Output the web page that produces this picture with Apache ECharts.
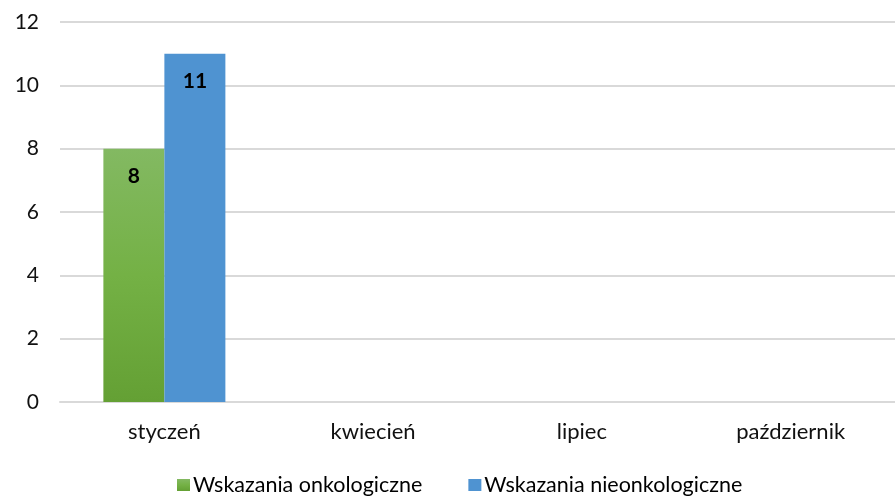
<!DOCTYPE html>
<html>
<head>
<meta charset="utf-8">
<script src="https://cdn.jsdelivr.net/npm/echarts@6/dist/echarts.min.js"></script>
<style>
html, body { margin: 0; padding: 0; background: #fff; }
#chart { width: 895px; height: 497px; }
</style>
</head>
<body>
<div id="chart"></div>
<script>
// dane wykresu
var months = ['styczeń', 'kwiecień', 'lipiec', 'październik'];
var onkologiczne = [8, null, null, null];
var nieonkologiczne = [11, null, null, null];
var seriesNames = ['Wskazania onkologiczne', 'Wskazania nieonkologiczne'];

var myChart = echarts.init(document.getElementById('chart'));
var labelStyle = {
  show: true,
  position: 'insideTop',
  distance: 17,
  fontFamily: 'Lato',
  fontWeight: 'bold',
  fontSize: 21,
  color: '#000'
};
var option = {
  animation: false,
  textStyle: { fontFamily: 'Lato' },
  grid: { left: 60, right: -5, top: 22, bottom: 95 },
  legend: {
    top: 474,
    left: 177,
    padding: 0,
    itemWidth: 13,
    itemHeight: 12,
    itemGap: 46,
    icon: 'rect',
    textStyle: { fontFamily: 'Lato', fontSize: 21.5, color: '#000', padding: [0, 0, 0, -2] },
    data: seriesNames
  },
  xAxis: {
    type: 'category',
    data: months,
    axisTick: { show: false },
    axisLine: { lineStyle: { color: '#d9d9d9', width: 2 } },
    axisLabel: { fontFamily: 'Lato', fontSize: 22, color: '#111', margin: 19 }
  },
  yAxis: {
    type: 'value',
    min: 0,
    max: 12,
    interval: 2,
    axisLine: { show: false },
    axisTick: { show: false },
    splitLine: { lineStyle: { color: '#d9d9d9', width: 2 } },
    axisLabel: { fontFamily: 'Lato', fontSize: 21, color: '#111', margin: 21 }
  },
  series: [{
    name: seriesNames[0],
    type: 'bar',
    barWidth: 61,
    barGap: '0%',
    itemStyle: {
      color: new echarts.graphic.LinearGradient(0, 0, 0, 1, [
        { offset: 0, color: '#83b962' },
        { offset: 0.5, color: '#74b145' },
        { offset: 1, color: '#64a034' }
      ])
    },
    label: labelStyle,
    data: onkologiczne
  }, {
    name: seriesNames[1],
    type: 'bar',
    barWidth: 61,
    barGap: '0%',
    itemStyle: { color: '#4f93d1' },
    label: labelStyle,
    data: nieonkologiczne
  }]
};
myChart.setOption(option);
</script>
</body>
</html>
